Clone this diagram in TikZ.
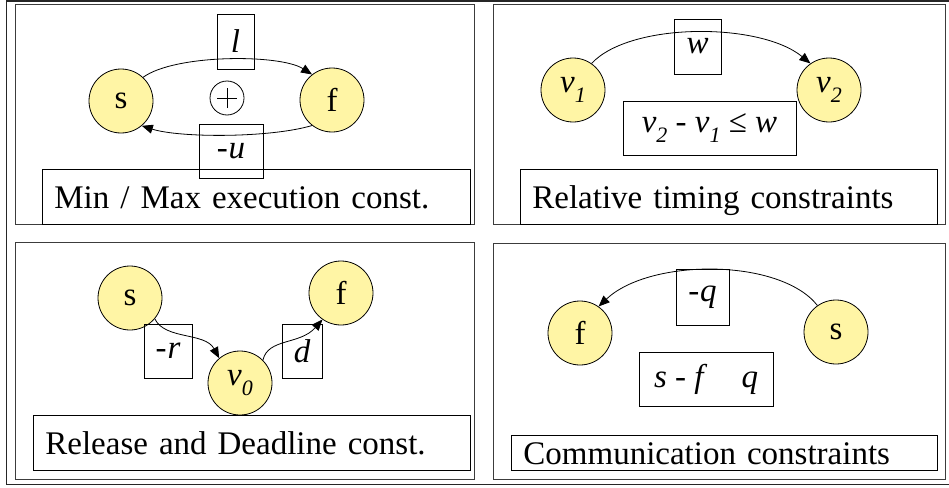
\documentclass[tikz,border=0pt]{standalone}
\usepackage{fontspec}
\setmainfont{Liberation Serif}
\usetikzlibrary{arrows.meta}
\definecolor{nodefill}{RGB}{255,245,165}
\definecolor{panelline}{RGB}{60,60,60}
% italic index set low and small, as in v_1
\newcommand{\lowidx}[1]{\raisebox{-0.3em}{\fontsize{22}{22}\selectfont\itshape #1}}
\newcommand{\lowered}[2]{\raisebox{-#1pt}{#2}}

\begin{document}
\begin{tikzpicture}[x=1pt,y=-1pt,
  every node/.style={font=\fontsize{33}{37}\selectfont},
  vertex/.style={circle, draw, fill=nodefill, minimum size=64pt, inner sep=0pt, line width=0.8pt},
  panel/.style={draw=panelline, line width=1pt},
  caption/.style={draw, line width=0.8pt, anchor=north west, inner ysep=0pt, inner xsep=12pt,
    align=left, text height=27pt, text depth=4pt},
  weight/.style={draw, line width=0.8pt, inner sep=0pt, font=\fontsize{33}{37}\selectfont\itshape},
  link/.style={line width=0.8pt, -{Triangle[length=11pt,width=9pt]}},
]
\useasboundingbox (0,0) rectangle (949,487);

% outer frame, open on the right
\draw[line width=1.6pt, black!85] (949,1) -- (6.5,1) -- (6.5,484.5) -- (949,484.5);

% the four panels
\draw[panel] (15,5) rectangle (474.5,224);
\draw[panel] (493,5) rectangle (945,224);
\draw[panel] (15,242) rectangle (474.5,479);
\draw[panel] (493,243) rectangle (945,479);

% ---------- Min / Max execution ----------
\node[caption, minimum width=428pt, minimum height=55pt, text width=404pt] (capA) at (42,169) {Min / Max execution const.};
\node[vertex] (sA) at (121,101) {s};
\node[vertex] (fA) at (332,100) {f};
\node[circle, draw, line width=0.8pt, minimum size=34pt, inner sep=0pt] (plus) at (227,98) {};
\draw[line width=0.7pt] ([xshift=-10pt]plus.center) -- ([xshift=10pt]plus.center)
                        ([yshift=-10pt]plus.center) -- ([yshift=10pt]plus.center);
\draw[link] (sA.47) .. controls (175,54) and (280,54) .. (fA.128);
\draw[link] (fA.232) .. controls (270,138) and (180,138) .. (sA.-50);
\node[weight, minimum width=37pt, minimum height=55pt] (lA) at (235.5,41.5) {l};
\node[weight, minimum width=64pt, minimum height=54pt] (uA) at (231,151) {\lowered{8}{-\kern1pt u}};

% ---------- Relative timing ----------
\node[caption, minimum width=417pt, minimum height=55pt, text width=393pt] (capB) at (520,169) {Relative timing constraints};
\node[vertex, font=\fontsize{33}{37}\selectfont\itshape] (v1) at (573,90) {v\lowidx{1}};
\node[vertex, font=\fontsize{33}{37}\selectfont\itshape] (v2) at (829,90) {v\lowidx{2}};
\draw[link] (v1.55) .. controls (630,22) and (760,22) .. (v2.125);
\node[weight, minimum width=47pt, minimum height=55pt] (wB) at (697.5,46.5) {\lowered{8}{w}};
\node[weight, minimum width=173pt, minimum height=54pt] (eqB) at (709.5,128)
  {\lowered{6}{v\lowidx{2} \upshape- \itshape v\lowidx{1} \upshape≤ \itshape w}};

% ---------- Release and Deadline ----------
\node[caption, minimum width=437pt, minimum height=55pt, text width=413pt] (capC) at (33,415) {Release and Deadline const.};
\node[vertex] (sC) at (130,298) {s};
\node[vertex] (fC) at (341,293) {f};
\node[vertex, font=\fontsize{33}{37}\selectfont\itshape] (v0) at (240,383) {v\lowidx{0}};
\draw[link] (sC.-40) .. controls (165,340) and (205,332) .. (v0.130);
\draw[link] (v0.45) .. controls (268,338) and (300,345) .. (fC.235);
\node[weight, minimum width=48pt, minimum height=54pt] (rC) at (168,351) {\lowered{6}{-\kern1pt r}};
\node[weight, minimum width=40pt, minimum height=54pt] (dC) at (302,351) {\lowered{3}{d}};

% ---------- Communication ----------
\node[caption, minimum width=426pt, minimum height=35pt, text width=402pt] (capD) at (511,435) {Communication constraints};
\node[vertex] (fD) at (580,333) {f};
\node[vertex] (sD) at (836,332) {s};
\draw[link] (sD.125) .. controls (780,258) and (650,258) .. (fD.55);
\node[weight, minimum width=53pt, minimum height=56pt] (qD) at (702.5,297) {\lowered{4}{-\kern1pt q}};
\node[weight, minimum width=134pt, minimum height=54pt] (eqD) at (706,379)
  {\lowered{4}{s \upshape- \itshape f\hspace{38pt}q}};
\end{tikzpicture}
\end{document}
